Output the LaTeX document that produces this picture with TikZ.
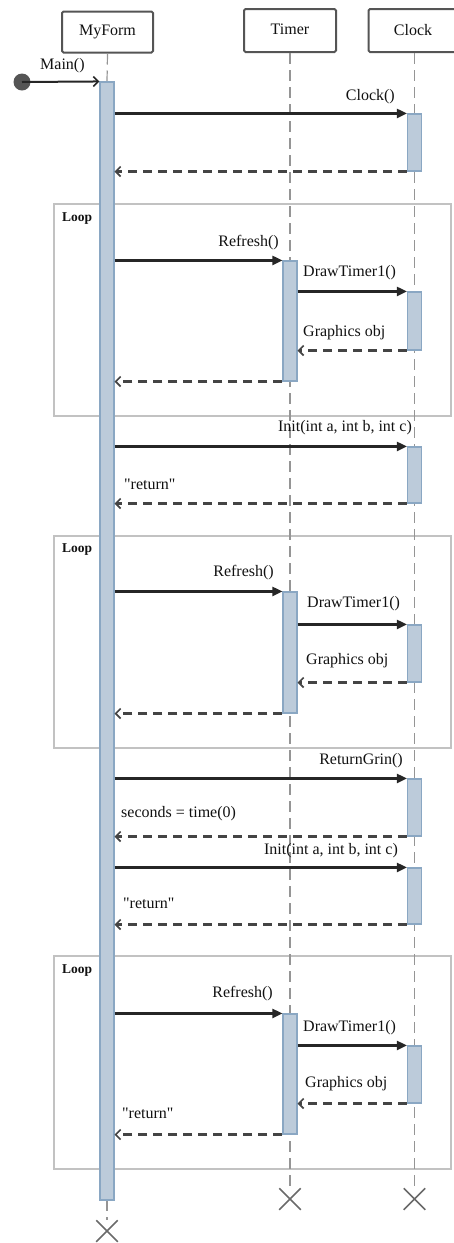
\documentclass[tikz,border=0pt]{standalone}
\usepackage{fontspec}
\setmainfont{Liberation Serif}
\newfontfamily\lblfont{Liberation Serif}
\usetikzlibrary{arrows.meta,shapes.misc}
\definecolor{actfill}{HTML}{BCCBDA}
\definecolor{actdraw}{HTML}{8AA7C3}
\definecolor{framegray}{HTML}{C2C2C2}
\definecolor{lifegray}{HTML}{959595}
\definecolor{boxgray}{HTML}{555555}
\definecolor{msgcol}{HTML}{262626}
\definecolor{retcol}{HTML}{444444}
\definecolor{xcol}{HTML}{6A6A6A}
\definecolor{txtcol}{HTML}{111111}
\begin{document}
\begin{tikzpicture}[x=1pt,y=-1pt,
  headbox/.style={draw=boxgray, line width=2pt, fill=white, rounded corners=1.5pt,
    minimum height=41pt, inner sep=0pt, text=txtcol, font=\lblfont\fontsize{16}{19}\selectfont},
  act/.style={draw=actdraw, line width=1.1pt, fill=actfill, minimum width=14pt, inner sep=0pt},
  loopframe/.style={draw=framegray, line width=1.6pt, inner sep=0pt, anchor=north west},
  looplbl/.style={font=\lblfont\fontsize{13.5}{16}\bfseries\selectfont, text=txtcol, inner sep=0pt, anchor=west},
  lifeline/.style={draw=lifegray, line width=1.2pt, dash pattern=on 11pt off 6pt},
  callmsg/.style={draw=msgcol, line width=2.2pt, -{Triangle[length=10pt,width=9pt]}},
  retmsg/.style={draw=retcol, line width=2.2pt, dash pattern=on 9pt off 6pt,
    -{Straight Barb[length=5pt,width=10pt,line width=1.6pt]}},
  mainmsg/.style={draw=msgcol, line width=2pt, -{Straight Barb[length=5pt,width=10pt,line width=1.6pt]}},
  lbl/.style={font=\lblfont\fontsize{16}{19}\selectfont, text=txtcol, inner sep=0pt, text height=12pt, text depth=4pt},
  destroy/.style={draw=xcol, line width=1.5pt, cross out, minimum size=20pt, inner sep=0pt},
  startdot/.style={circle, fill=boxgray, minimum size=17pt, inner sep=0pt}
]
\useasboundingbox (0,0) rectangle (454,1243);
\clip (0,0) rectangle (454,1243);

% loop frames
\node[loopframe, minimum width=397pt, minimum height=212pt] (L1) at (53,203) {};
\node[loopframe, minimum width=397pt, minimum height=212pt] (L2) at (53,535) {};
\node[loopframe, minimum width=397pt, minimum height=213pt] (L3) at (53,955) {};
\node[looplbl] (L1t) at (62,219) {Loop};
\node[looplbl] (L2t) at (62,550) {Loop};
\node[looplbl] (L3t) at (62,971) {Loop};

% headers
\node[headbox, minimum width=91pt] (myform) at (107.5,32) {MyForm};
\node[headbox, minimum width=92pt, minimum height=43pt] (timer) at (290,30.5) {\raisebox{2pt}{Timer}};
\node[headbox, minimum width=92pt, minimum height=43pt] (clock) at (414.5,30.5) {\hspace*{-3pt}Clock};

% destruction marks
\node[destroy] (xT) at (290,1199) {};
\node[destroy] (xC) at (414.5,1199) {};
\node[destroy] (xM) at (107,1231) {};

% activation of MyForm: end points
\coordinate (aMtop) at (107,82);
\coordinate (aMbot) at (107,1200);

% lifelines (drawn first, under the bars)
\draw[lifeline] (myform.south) -- (aMtop);
\draw[lifeline] (aMbot) -- (xM.north);
\draw[lifeline] (timer.south) -- (xT.north);
\draw[lifeline] (clock.south) -- (xC.north);

% activations
\node[act, minimum height=1118pt] (aM) at (107,641) {};
\node[act, minimum height=57pt] (aC1) at (414.5,142.5) {};
\node[act, minimum height=120pt] (aT1) at (290,321) {};
\node[act, minimum height=58pt] (aC2) at (414.5,321) {};
\node[act, minimum height=56pt] (aC3) at (414.5,475) {};
\node[act, minimum height=121pt] (aT2) at (290,652.5) {};
\node[act, minimum height=57pt] (aC4) at (414.5,653.5) {};
\node[act, minimum height=57pt] (aC5) at (414.5,807.5) {};
\node[act, minimum height=56pt] (aC6) at (414.5,896) {};
\node[act, minimum height=120pt] (aT3) at (290,1074) {};
\node[act, minimum height=57pt] (aC7) at (414.5,1074.5) {};

% start
\node[startdot] (start) at (22,82) {};
\draw[mainmsg] (start.center) -- (aM.north west);
\node[lbl, anchor=west] (lMain) at (40,65) {Main()};

% Clock()
\draw[callmsg] (aM.east |- aC1.north) -- (aC1.north west);
\draw[retmsg] (aC1.south west) -- (aM.east |- aC1.south);
\node[lbl, anchor=east] (lClock) at (395,96) {Clock()};

% loop 1
\draw[callmsg] (aM.east |- aT1.north) -- (aT1.north west);
\draw[callmsg] (aT1.east |- aC2.north) -- (aC2.north west);
\draw[retmsg] (aC2.south west) -- (aT1.east |- aC2.south);
\draw[retmsg] (aT1.south west) -- (aM.east |- aT1.south);
\node[lbl, anchor=east] (lR1) at (279,242) {Refresh()};
\node[lbl, anchor=west] (lD1) at (303,272) {DrawTimer1()};
\node[lbl, anchor=west] (lG1) at (303,332) {Graphics obj};

% Init 1
\draw[callmsg] (aM.east |- aC3.north) -- (aC3.north west);
\draw[retmsg] (aC3.south west) -- (aM.east |- aC3.south);
\node[lbl, anchor=east] (lI1) at (412,427) {Init(int a, int b, int c)};
\node[lbl, anchor=west] (lRet1) at (124,485) {"return"};

% loop 2
\draw[callmsg] (aM.east |- aT2.north) -- (aT2.north west);
\draw[callmsg] (aT2.east |- aC4.north) -- (aC4.north west);
\draw[retmsg] (aC4.south west) -- (aT2.east |- aC4.south);
\draw[retmsg] (aT2.south west) -- (aM.east |- aT2.south);
\node[lbl, anchor=east] (lR2) at (274,572) {Refresh()};
\node[lbl, anchor=west] (lD2) at (307,603) {DrawTimer1()};
\node[lbl, anchor=west] (lG2) at (306,660) {Graphics obj};

% ReturnGrin
\draw[callmsg] (aM.east |- aC5.north) -- (aC5.north west);
\draw[retmsg] (aC5.south west) -- (aM.east |- aC5.south);
\node[lbl, anchor=east] (lRG) at (403,760) {ReturnGrin()};
\node[lbl, anchor=west] (lSec) at (121,813) {seconds = time(0)};

% Init 2
\draw[callmsg] (aM.east |- aC6.north) -- (aC6.north west);
\draw[retmsg] (aC6.south west) -- (aM.east |- aC6.south);
\node[lbl, anchor=east] (lI2) at (398,850) {Init(int a, int b, int c)};
\node[lbl, anchor=west] (lRet2) at (123,904) {"return"};

% loop 3
\draw[callmsg] (aM.east |- aT3.north) -- (aT3.north west);
\draw[callmsg] (aT3.east |- aC7.north) -- (aC7.north west);
\draw[retmsg] (aC7.south west) -- (aT3.east |- aC7.south);
\draw[retmsg] (aT3.south west) -- (aM.east |- aT3.south);
\node[lbl, anchor=east] (lR3) at (273,993) {Refresh()};
\node[lbl, anchor=west] (lD3) at (303,1027) {DrawTimer1()};
\node[lbl, anchor=west] (lG3) at (305,1083) {Graphics obj};
\node[lbl, anchor=west] (lRet3) at (122,1114) {"return"};
\end{tikzpicture}
\end{document}
